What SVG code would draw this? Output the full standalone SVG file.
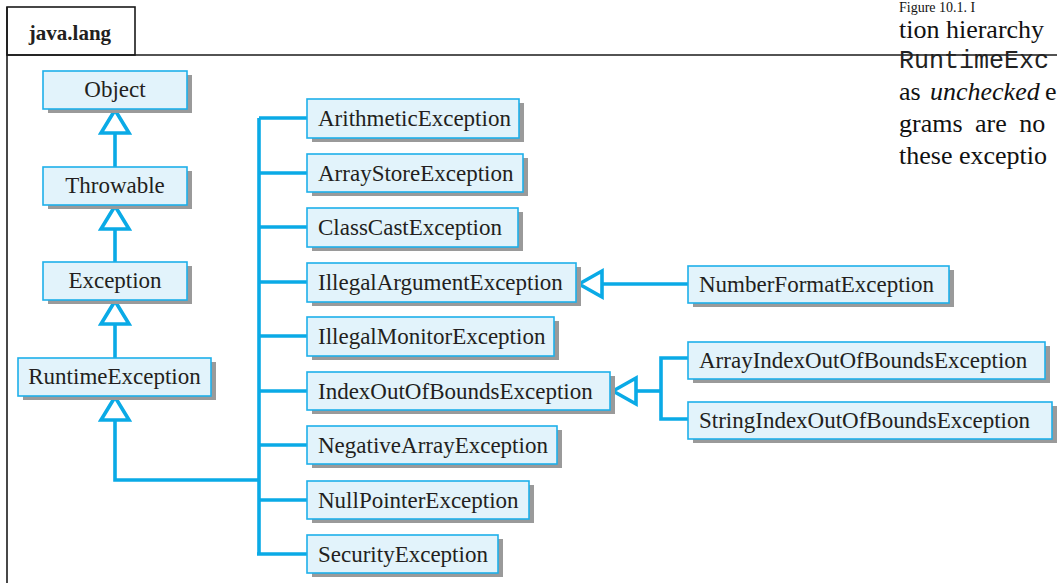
<svg xmlns="http://www.w3.org/2000/svg" width="1057" height="583" viewBox="0 0 1057 583">
<style>
.frame{fill:none;stroke:#1a1a1a;stroke-width:1.6}
.box{fill:#E2F3FB;stroke:#1EB0EA;stroke-width:1.6}
.sh{fill:#9a9a9a}
.lbl{font-family:"Liberation Serif",serif;font-size:23px;fill:#231f20}
.lc{text-anchor:middle}
.conn{fill:none;stroke:#0AAAE6;stroke-width:3.6}
.tri{fill:#fff;stroke:#0AAAE6;stroke-width:3.6;stroke-linejoin:miter}
.page{font-family:"Liberation Serif",serif;font-size:26px;fill:#111}
.mono{font-family:"Liberation Mono",monospace;font-size:25px;fill:#222}
</style>
<rect width="1057" height="583" fill="#fff"/>
<g id="frame">
<rect class="frame" x="7" y="7" width="128" height="48"/>
<line class="frame" x1="7" y1="55" x2="1057" y2="55"/>
<line class="frame" x1="7" y1="7" x2="7" y2="583"/>
<text x="70" y="40" text-anchor="middle" style="font-family:'Liberation Serif',serif;font-size:21px;font-weight:bold;fill:#231f20">java.lang</text>
</g>
<g id="page-text">
<text class="page" x="899" y="12" style="font-size:14px">Figure 10.1. I</text>
<text class="page" x="899" y="38">tion hierarchy</text>
<text class="mono" x="899" y="68">RuntimeExc</text>
<text class="page" x="899" y="100">as</text>
<text class="page" x="930" y="100" font-style="italic" style="font-family:'Liberation Serif','DejaVu Serif',serif">unchecked</text>
<text class="page" x="1045" y="100">e</text>
<text class="page" x="899" y="132" word-spacing="6">grams are no</text>
<text class="page" x="899" y="164">these exceptio</text>
</g>
<g id="connectors">
<polygon class="tri" points="115,110 101,133 129,133"/>
<line class="conn" x1="115" y1="133" x2="115" y2="167"/>
<polygon class="tri" points="115,206 101,229 129,229"/>
<line class="conn" x1="115" y1="229" x2="115" y2="262"/>
<polygon class="tri" points="115,301 101,324 129,324"/>
<line class="conn" x1="115" y1="324" x2="115" y2="358"/>
<polygon class="tri" points="115,397 101,420 129,420"/>
<polyline class="conn" points="115,420 115,480 259,480"/>
<line class="conn" x1="259" y1="118" x2="259" y2="554"/>
<line class="conn" x1="259" y1="118" x2="307" y2="118"/>
<line class="conn" x1="259" y1="173" x2="307" y2="173"/>
<line class="conn" x1="259" y1="227" x2="307" y2="227"/>
<line class="conn" x1="259" y1="282" x2="307" y2="282"/>
<line class="conn" x1="259" y1="336" x2="307" y2="336"/>
<line class="conn" x1="259" y1="391" x2="307" y2="391"/>
<line class="conn" x1="259" y1="445" x2="307" y2="445"/>
<line class="conn" x1="259" y1="500" x2="307" y2="500"/>
<line class="conn" x1="257" y1="554" x2="307" y2="554"/>
<polygon class="tri" points="579,284 602,271 602,297"/>
<line class="conn" x1="602" y1="284" x2="688" y2="284"/>
<polygon class="tri" points="613,391 636,378 636,404"/>
<polyline class="conn" points="636,391 661,391"/>
<polyline class="conn" points="688,358 661,358 661,419 688,419"/>
</g>
<g id="n-object"><rect class="sh" x="48" y="75" width="144" height="38"/><rect class="box" x="43" y="71" width="144" height="38"/><text class="lbl lc" x="115" y="97">Object</text></g>
<g id="n-throwable"><rect class="sh" x="48" y="171" width="144" height="38"/><rect class="box" x="43" y="167" width="144" height="38"/><text class="lbl lc" x="115" y="193">Throwable</text></g>
<g id="n-exception"><rect class="sh" x="48" y="266" width="144" height="38"/><rect class="box" x="43" y="262" width="144" height="38"/><text class="lbl lc" x="115" y="288">Exception</text></g>
<g id="n-runtime"><rect class="sh" x="23" y="362" width="193" height="38"/><rect class="box" x="18" y="358" width="193" height="38"/><text class="lbl lc" x="114.5" y="384">RuntimeException</text></g>
<g id="n-arith"><rect class="sh" x="312" y="103" width="212" height="39"/><rect class="box" x="307" y="99" width="212" height="39"/><text class="lbl" x="318" y="126">ArithmeticException</text></g>
<g id="n-arraystore"><rect class="sh" x="312" y="158" width="216" height="38"/><rect class="box" x="307" y="154" width="216" height="38"/><text class="lbl" x="318" y="180.5">ArrayStoreException</text></g>
<g id="n-classcast"><rect class="sh" x="312" y="212" width="211" height="39"/><rect class="box" x="307" y="208" width="211" height="39"/><text class="lbl" x="318" y="235">ClassCastException</text></g>
<g id="n-illegalarg"><rect class="sh" x="312" y="267" width="269" height="39"/><rect class="box" x="307" y="263" width="269" height="39"/><text class="lbl" x="318" y="290">IllegalArgumentException</text></g>
<g id="n-illegalmon"><rect class="sh" x="312" y="321" width="247" height="39"/><rect class="box" x="307" y="317" width="247" height="39"/><text class="lbl" x="318" y="344">IllegalMonitorException</text></g>
<g id="n-indexoob"><rect class="sh" x="312" y="376" width="303" height="38"/><rect class="box" x="307" y="372" width="303" height="38"/><text class="lbl" x="318" y="398.5">IndexOutOfBoundsException</text></g>
<g id="n-negarray"><rect class="sh" x="312" y="430" width="250" height="38"/><rect class="box" x="307" y="426" width="250" height="38"/><text class="lbl" x="318" y="452.5">NegativeArrayException</text></g>
<g id="n-nullptr"><rect class="sh" x="312" y="485" width="222" height="38"/><rect class="box" x="307" y="481" width="222" height="38"/><text class="lbl" x="318" y="507.5">NullPointerException</text></g>
<g id="n-security"><rect class="sh" x="312" y="539" width="191" height="38"/><rect class="box" x="307" y="535" width="191" height="38"/><text class="lbl" x="318" y="561.5">SecurityException</text></g>
<g id="n-numformat"><rect class="sh" x="693" y="270" width="261" height="37"/><rect class="box" x="688" y="266" width="261" height="37"/><text class="lbl" x="699" y="292">NumberFormatException</text></g>
<g id="n-arrayidx"><rect class="sh" x="693" y="346" width="357" height="37"/><rect class="box" x="688" y="342" width="357" height="37"/><text class="lbl" x="699" y="368">ArrayIndexOutOfBoundsException</text></g>
<g id="n-stringidx"><rect class="sh" x="693" y="406" width="364" height="37"/><rect class="box" x="688" y="402" width="364" height="37"/><text class="lbl" x="699" y="428">StringIndexOutOfBoundsException</text></g>
</svg>
